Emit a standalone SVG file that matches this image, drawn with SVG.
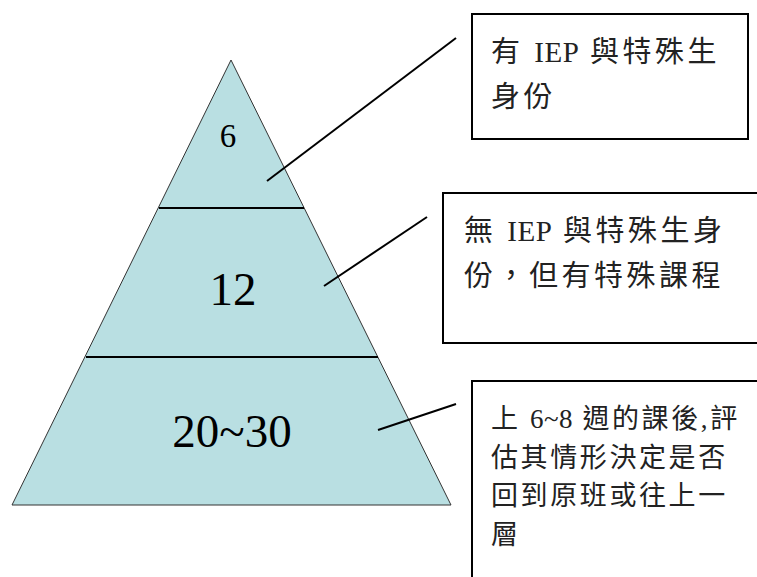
<svg xmlns="http://www.w3.org/2000/svg" width="757" height="577" viewBox="0 0 757 577">
<style>
.num{font-family:'Liberation Serif','Times New Roman',Times,serif;fill:#000;text-anchor:middle}
.lbl{font-family:'Liberation Serif','Noto Sans CJK TC',serif;fill:#222;font-size:29px;letter-spacing:3.5px}
.lat{letter-spacing:0.5px}
.lbl3{font-family:'Liberation Serif','Noto Sans CJK TC',serif;fill:#222;font-size:27px;letter-spacing:2.6px}
.box{fill:#fff;stroke:#000;stroke-width:2}
.conn line{stroke:#000;stroke-width:2}
</style>
<rect width="757" height="577" fill="#fff"/>
<g id="pyramid">
<polygon points="231,60 451,505 12,505" fill="#B9DFE2" stroke="#333" stroke-width="1"/>
<line x1="159" y1="208" x2="304" y2="208" stroke="#000" stroke-width="2"/>
<line x1="86" y1="357" x2="378" y2="357" stroke="#000" stroke-width="2"/>
</g>
<g id="tier1"><text class="num" x="228" y="147" font-size="33" font-family="Liberation Serif, serif">6</text></g>
<g id="tier2"><text class="num" x="233" y="305" font-size="47" font-family="Liberation Serif, serif">12</text></g>
<g id="tier3"><text class="num" x="232" y="447" font-size="47" font-family="Liberation Serif, serif">20~30</text></g>
<g id="box1">
<rect class="box" x="472" y="14" width="276" height="125"/>
<text class="lbl" x="491" y="62">有 <tspan class="lat">IEP</tspan> 與特殊生</text>
<text class="lbl" x="491" y="107">身份</text>
</g>
<g id="box2">
<rect class="box" x="443" y="193" width="330" height="150"/>
<text class="lbl" x="464" y="241">無 <tspan class="lat">IEP</tspan> 與特殊生身</text>
<text class="lbl" x="464" y="286">份，但有特殊課程</text>
</g>
<g id="box3">
<rect class="box" x="472" y="381" width="300" height="210"/>
<text class="lbl3" x="491" y="428">上 <tspan class="lat">6~8</tspan> 週的課後,評</text>
<text class="lbl3" x="491" y="466.5">估其情形決定是否</text>
<text class="lbl3" x="491" y="505">回到原班或往上一</text>
<text class="lbl3" x="491" y="543.5">層</text>
</g>
<g class="conn" id="connectors">
<line x1="267" y1="181" x2="456" y2="38"/>
<line x1="324" y1="286" x2="427" y2="217"/>
<line x1="378" y1="430" x2="456" y2="404"/>
</g>
</svg>
